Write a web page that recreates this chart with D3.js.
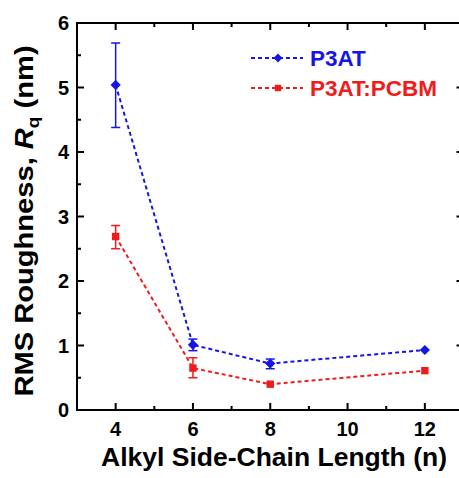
<!DOCTYPE html>
<html><head><meta charset="utf-8">
<script src="https://cdn.jsdelivr.net/npm/d3@7"></script>
<style>body{margin:0;background:#fff;} svg{display:block;} text{font-family:"Liberation Sans",Arial,sans-serif;font-weight:bold;}</style>
</head><body>
<svg id="c" width="459" height="478"></svg>
<script>
const chainLength = [4, 6, 8, 12];
const p3at = [5.04, 1.01, 0.72, 0.93];
const p3atErrLow = [4.38, 0.92, 0.64, 0.90];
const p3atErrHigh = [5.69, 1.10, 0.79, 0.96];
const pcbm = [2.69, 0.65, 0.40, 0.61];
const pcbmErrLow = [2.50, 0.50, 0.38, 0.59];
const pcbmErrHigh = [2.86, 0.81, 0.42, 0.63];
const xTicks = [4, 6, 8, 10, 12];
const yTicks = [0, 1, 2, 3, 4, 5, 6];
const seriesNames = ["P3AT", "P3AT:PCBM"];

const svg = d3.select("#c");
const L = 77, R = 463.5, T = 23, B = 410;
const x = d3.scaleLinear().domain([3, 13]).range([L, R]);
const y = d3.scaleLinear().domain([0, 6]).range([B, T]);

const g = svg.append("g");
g.append("rect").attr("x", L).attr("y", T).attr("width", R - L).attr("height", B - T)
  .attr("fill", "none").attr("stroke", "#000").attr("stroke-width", 2);

const xMinor = [5, 7, 9, 11];
const yMinor = d3.range(0.5, 6, 1);
function ticks(vals, len) {
  vals.forEach(v => {
    g.append("line").attr("x1", x(v)).attr("x2", x(v)).attr("y1", B).attr("y2", B - len).attr("stroke", "#000").attr("stroke-width", 2);
    g.append("line").attr("x1", x(v)).attr("x2", x(v)).attr("y1", T).attr("y2", T + len).attr("stroke", "#000").attr("stroke-width", 2);
  });
}
ticks(xTicks, 7); ticks(xMinor, 4);
function yt(vals, len) {
  vals.forEach(v => {
    g.append("line").attr("x1", L).attr("x2", L + len).attr("y1", y(v)).attr("y2", y(v)).attr("stroke", "#000").attr("stroke-width", 2);
    g.append("line").attr("x1", R).attr("x2", R - len).attr("y1", y(v)).attr("y2", y(v)).attr("stroke", "#000").attr("stroke-width", 2);
  });
}
yt(yTicks.filter(v => v > 0 && v < 6), 7); yt(yMinor, 4);

xTicks.forEach(v => g.append("text").attr("x", x(v)).attr("y", 436).attr("text-anchor", "middle").attr("font-size", 20).text(v));
yTicks.forEach(v => g.append("text").attr("x", 69).attr("y", y(v) + 7).attr("text-anchor", "end").attr("font-size", 20).text(v));

g.append("text").attr("x", 274).attr("y", 466).attr("text-anchor", "middle").attr("font-size", 26.5).text("Alkyl Side-Chain Length (n)");
const yl = g.append("text").attr("transform", "translate(33,221) rotate(-90) scale(1.12,1)").attr("text-anchor", "middle").attr("font-size", 26);
yl.append("tspan").text("RMS Roughness, ");
yl.append("tspan").attr("font-style", "italic").text("R");
yl.append("tspan").attr("font-size", 17).attr("dy", 6).text("q");
yl.append("tspan").attr("dy", -6).text(" (nm)");

const series = [
  {name: seriesNames[0], vals: p3at, lo: p3atErrLow, hi: p3atErrHigh, color: "#1515e6", rot: 45, size: 52},
  {name: seriesNames[1], vals: pcbm, lo: pcbmErrLow, hi: pcbmErrHigh, color: "#ee1c1c", rot: 0, size: 55}
];
const line = d3.line().x(d => x(d[0])).y(d => y(d[1]));
series.forEach((s, si) => {
  const pts = chainLength.map((c, i) => [c, s.vals[i]]);
  g.append("path").attr("d", line(pts)).attr("fill", "none").attr("stroke", s.color)
    .attr("stroke-width", 2).attr("stroke-dasharray", "4,3");
  chainLength.forEach((c, i) => {
    if (s.hi[i] - s.lo[i] > 0.06) {
      const xc = x(c);
      g.append("line").attr("x1", xc).attr("x2", xc).attr("y1", y(s.lo[i])).attr("y2", y(s.hi[i])).attr("stroke", s.color).attr("stroke-width", 1.5);
      [s.lo[i], s.hi[i]].forEach(v => g.append("line").attr("x1", xc - 4.5).attr("x2", xc + 4.5).attr("y1", y(v)).attr("y2", y(v)).attr("stroke", s.color).attr("stroke-width", 1.5));
    }
    g.append("path").attr("d", d3.symbol(d3.symbolSquare, s.size)()).attr("transform", `translate(${x(c)},${y(s.vals[i])}) rotate(${s.rot})`).attr("fill", s.color);
  });
  const ly = 58 + si * 30;
  g.append("line").attr("x1", 251).attr("x2", 303).attr("y1", ly).attr("y2", ly).attr("stroke", s.color).attr("stroke-width", 2).attr("stroke-dasharray", "4,3");
  g.append("path").attr("d", d3.symbol(d3.symbolSquare, s.size * 0.75)()).attr("transform", `translate(278,${ly}) rotate(${s.rot})`).attr("fill", s.color);
  g.append("text").attr("x", 310).attr("y", ly + 7.5).attr("font-size", 22.5).attr("fill", s.color).text(s.name);
});
</script>
</body></html>
